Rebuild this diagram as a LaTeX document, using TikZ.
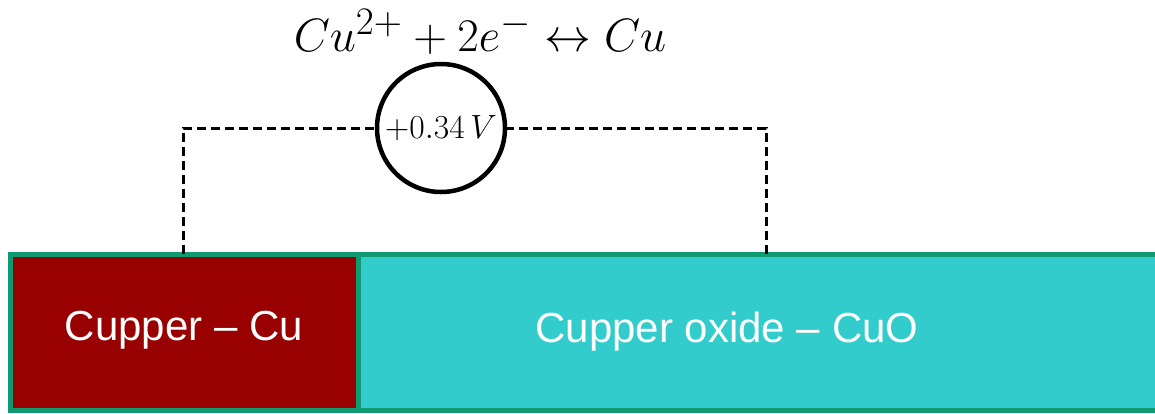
\documentclass[tikz,border=0pt]{standalone}
\usepackage{graphicx}
\usepackage{fontspec}
\newfontfamily\arialf{Liberation Sans}
\definecolor{cured}{HTML}{990000}
\definecolor{cuteal}{HTML}{33CCCC}
\definecolor{cugreen}{HTML}{0F9A72}
\begin{document}
\begin{tikzpicture}[x=1pt,y=-1pt,
  block/.style={draw=cugreen,line width=5pt},
  wire/.style={draw=black,line width=3pt,dash pattern=on 9pt off 5pt},
  lbl/.style={text=white,font=\arialf\fontsize{42}{50}\selectfont}]
\useasboundingbox (0,0) rectangle (1155,413);
\fill[cuteal] (358,254.5) rectangle (1160,410.5);
\draw[cugreen,line width=5pt] (358,254.5) -- (1160,254.5) (358,410.5) -- (1160,410.5);
\path[block,fill=cured] (10.5,254.5) rectangle (358,410.5);
\node[lbl] (cu) at (184,330) {Cupper – Cu};
\node[lbl] (cuo) at (727,332) {Cupper oxide – CuO};
\coordinate (lt) at (183,254);
\coordinate (rt) at (766,254);
\node[draw,circle,line width=4.5pt,minimum size=128pt,inner sep=0pt] (v) at (441,128) {\scalebox{1.62}{\huge$+0.34\,V$}};
\draw[wire] (lt) |- (v.west);
\draw[wire] (rt) |- (v.east);
\node[inner sep=0pt] (eq) at (480,32) {\scalebox{1.88}{\Huge$Cu^{2+}+2e^{-}\leftrightarrow Cu$}};
\end{tikzpicture}
\end{document}
